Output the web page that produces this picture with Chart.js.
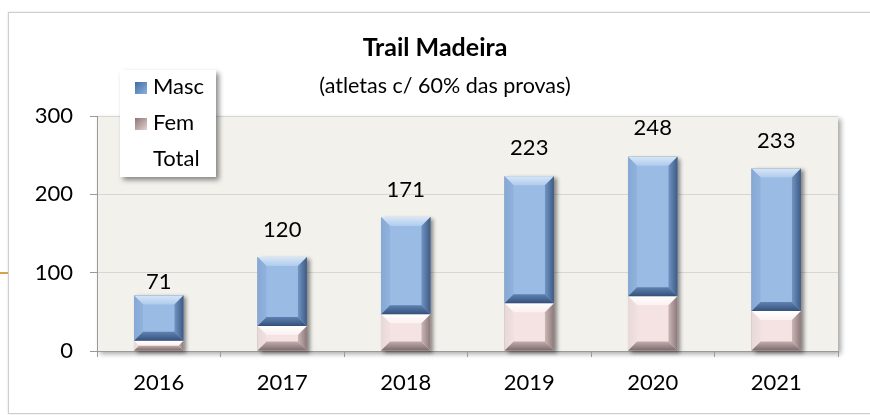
<!DOCTYPE html>
<html>
<head>
<meta charset="utf-8">
<script src="https://cdn.jsdelivr.net/npm/chart.js@4.4.0/dist/chart.umd.min.js"></script>
<style>
  html, body { margin: 0; padding: 0; background: #fff; }
  #wrap { position: relative; width: 870px; height: 415px; overflow: hidden; font-family: Lato, "Open Sans", sans-serif; }
  #frame { position: absolute; left: 8px; top: 12px; width: 880px; height: 400px; border: 1px solid #cfcfcf; box-shadow: 0 0 2px rgba(0,0,0,0.15); }
  #mark { position: absolute; left: 0; top: 272px; width: 8px; height: 2px; background: #d8a24a; }
  #title { position: absolute; left: 0; width: 870px; top: 31px; text-align: center; font-weight: bold; font-size: 25px; color: #000; }
  #subtitle { position: absolute; left: 10px; width: 870px; top: 72px; text-align: center; font-size: 21.5px; color: #000; }
  #legend { position: absolute; left: 120px; top: 70px; width: 96px; height: 107px; background: #fff; box-shadow: 3px 3px 5px rgba(0,0,0,0.45); font-size: 22px; color: #000; }
  .item { position: absolute; left: 15px; height: 26px; line-height: 26px; }
  .sw { display: inline-block; width: 12px; height: 12px; margin-right: 6px; vertical-align: 0px; }
  canvas { position: absolute; left: 0; top: 0; }
</style>
</head>
<body>
<div id="wrap">
  <div id="frame"></div>
  <div id="mark"></div>
  <canvas id="chart" width="870" height="415"></canvas>
  <div id="title">Trail Madeira</div>
  <div id="subtitle">(atletas c/ 60% das provas)</div>
  <div id="legend">
    <div class="item" style="top:3px"><span class="sw" style="background:linear-gradient(135deg,#3f6aa3,#8fb2df)"></span>Masc</div>
    <div class="item" style="top:39px"><span class="sw" style="background:linear-gradient(135deg,#8a7474,#e6d0d0)"></span>Fem</div>
    <div class="item" style="top:75px"><span class="sw"></span>Total</div>
  </div>
</div>
<script>
const years = ['2016', '2017', '2018', '2019', '2020', '2021'];
const fem = [13, 32, 47, 61, 70, 51];
const masc = [58, 88, 124, 162, 178, 182];
const total = [71, 120, 171, 223, 248, 233];
const yTicks = [0, 100, 200, 300];

const labelOffsets = [13, 27, 27, 28, 29, 28];

// index 0 = Fem, index 1 = Masc (same order as datasets); [outer edge, inner edge]
const bevelColors = [
  { top: ['#ffffff', '#fbf0f0'], bottom: ['#7d6a6a', '#c2adad'], left: ['#e9d8d8', '#f0e0e0'], right: ['#8c7878', '#cbb6b6'] },
  { top: ['#d6e6f7', '#b0cbed'], bottom: ['#34517b', '#5f82b2'], left: ['#86a8d4', '#90b2dd'], right: ['#3d5a83', '#7194c3'] }
];

const plotBg = {
  id: 'plotBg',
  beforeDraw(chart) {
    const { ctx, chartArea: a } = chart;
    ctx.save();
    ctx.shadowColor = 'rgba(0,0,0,0.35)';
    ctx.shadowBlur = 5;
    ctx.shadowOffsetX = 3;
    ctx.shadowOffsetY = 3;
    ctx.fillStyle = '#f2f1ec';
    ctx.fillRect(a.left, a.top, a.right - a.left, a.bottom - a.top);
    ctx.restore();
  }
};

const barShadow = {
  id: 'barShadow',
  beforeDatasetsDraw(chart) {
    const { ctx } = chart;
    const top = chart.getDatasetMeta(1).data;
    const bottom = chart.getDatasetMeta(0).data;
    ctx.save();
    ctx.shadowColor = 'rgba(0,0,0,0.45)';
    ctx.shadowBlur = 4;
    ctx.shadowOffsetX = 3;
    ctx.shadowOffsetY = 2;
    ctx.fillStyle = '#666';
    top.forEach((el, i) => {
      const p = el.getProps(['x', 'y', 'width'], true);
      const base = bottom[i].getProps(['base'], true).base;
      ctx.fillRect(p.x - p.width / 2, p.y, p.width, base - p.y);
    });
    ctx.restore();
  }
};

const bevel = {
  id: 'bevel',
  afterDatasetsDraw(chart) {
    const { ctx } = chart;
    [0, 1].forEach(di => {
      const c = bevelColors[di];
      chart.getDatasetMeta(di).data.forEach(el => {
        const p = el.getProps(['x', 'y', 'base', 'width'], true);
        const l = p.x - p.width / 2, r = p.x + p.width / 2;
        const t = Math.min(p.y, p.base), b = Math.max(p.y, p.base);
        const s = Math.min(9, (b - t) / 2);
        const poly = (pts, cols, x0, y0, x1, y1) => {
          const g = ctx.createLinearGradient(x0, y0, x1, y1);
          g.addColorStop(0, cols[0]);
          g.addColorStop(1, cols[1]);
          ctx.beginPath();
          ctx.moveTo(pts[0][0], pts[0][1]);
          pts.slice(1).forEach(q => ctx.lineTo(q[0], q[1]));
          ctx.closePath();
          ctx.fillStyle = g;
          ctx.fill();
        };
        ctx.save();
        poly([[l, t], [r, t], [r - s, t + s], [l + s, t + s]], c.top, 0, t, 0, t + s);
        poly([[l, t], [l + s, t + s], [l + s, b - s], [l, b]], c.left, l, 0, l + s, 0);
        poly([[r, t], [r - s, t + s], [r - s, b - s], [r, b]], c.right, r, 0, r - s, 0);
        poly([[l, b], [r, b], [r - s, b - s], [l + s, b - s]], c.bottom, 0, b, 0, b - s);
        ctx.restore();
      });
    });
  }
};

const totalLabels = {
  id: 'totalLabels',
  afterDatasetsDraw(chart) {
    const { ctx } = chart;
    const meta = chart.getDatasetMeta(2);
    ctx.save();
    ctx.font = '22px Lato, "Open Sans", sans-serif';
    ctx.fillStyle = '#000';
    ctx.textAlign = 'center';
    ctx.textBaseline = 'middle';
    meta.data.forEach((pt, i) => {
      const topY = chart.scales.y.getPixelForValue(total[i]);
      ctx.fillText(String(total[i]), pt.x, topY - labelOffsets[i]);
    });
    ctx.restore();
  }
};

new Chart(document.getElementById('chart'), {
  data: {
    labels: years,
    datasets: [
      { type: 'bar', label: 'Fem', data: fem, backgroundColor: '#f5e2e2', stack: 's' },
      { type: 'bar', label: 'Masc', data: masc, backgroundColor: '#99bbe4', stack: 's' },
      { type: 'line', label: 'Total', data: total, showLine: false, pointRadius: 0, pointHoverRadius: 0, stack: 't' }
    ]
  },
  options: {
    responsive: false,
    animation: false,
    events: [],
    layout: { padding: { left: 8, right: 32, top: 116, bottom: 0 } },
    plugins: { legend: { display: false }, tooltip: { enabled: false }, title: { display: false } },
    datasets: { bar: { categoryPercentage: 1, barPercentage: 0.4 } },
    scales: {
      x: {
        stacked: true,
        offset: true,
        afterFit(s) { s.height = 64; },
        grid: { drawOnChartArea: false, drawTicks: true, tickLength: 6, color: '#9a9a9a', offset: true },
        border: { display: true, color: '#9a9a9a' },
        ticks: { font: { family: 'Lato', size: 22 }, color: '#000', padding: 13 }
      },
      y: {
        stacked: true,
        min: 0,
        max: 300,
        afterFit(s) { s.width = 89; },
        afterBuildTicks(s) { s.ticks = yTicks.map(v => ({ value: v })); },
        grid: { color: '#d6d6d2', tickLength: 7, tickColor: '#9a9a9a' },
        border: { display: true, color: '#9a9a9a' },
        ticks: { font: { family: 'Lato', size: 22 }, color: '#000', padding: 17 }
      }
    }
  },
  plugins: [plotBg, barShadow, bevel, totalLabels]
});
</script>
</body>
</html>
